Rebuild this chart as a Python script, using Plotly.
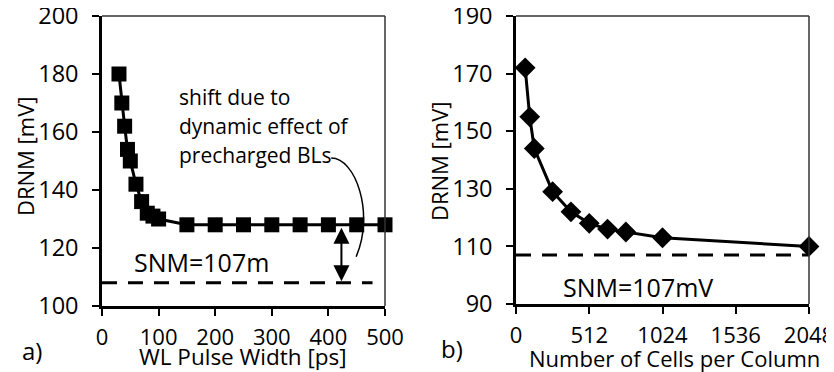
import plotly.graph_objects as go

# Panel a) data
pulse_width_ps = [30, 35, 40, 45, 50, 60, 70, 80, 90, 100, 150, 200, 250, 300, 350, 400, 450, 500]
drnm_a_mV = [180, 170, 162, 154, 150, 142, 136, 132, 131, 130, 128, 128, 128, 128, 128, 128, 128, 128]
snm_a_x = [0, 478]
snm_a_y = [108, 108]

# Panel b) data
cells_per_column = [64, 96, 128, 256, 384, 512, 640, 768, 1024, 2048]
drnm_b_mV = [172, 155, 144, 129, 122, 118, 116, 115, 113, 110]
snm_b_x = [0, 2048]
snm_b_y = [107, 107]

x_ticks_a = [0, 100, 200, 300, 400, 500]
y_ticks_a = [100, 120, 140, 160, 180, 200]
x_ticks_b = [0, 512, 1024, 1536, 2048]
y_ticks_b = [90, 110, 130, 150, 170, 190]

FONT = "Open Sans"
OFF = 8  # page body margin offset
W, H = 834 - OFF, 372 - OFF


def px(x):
    return (x - OFF) / W


def py(y):
    return 1 - (y - OFF) / H


fig = go.Figure()
fig.add_trace(go.Scatter(x=pulse_width_ps, y=drnm_a_mV, mode="lines+markers",
                         line=dict(color="black", width=3),
                         marker=dict(symbol="square", size=15, color="black"),
                         xaxis="x", yaxis="y", showlegend=False, cliponaxis=False))
fig.add_trace(go.Scatter(x=snm_a_x, y=snm_a_y, mode="lines",
                         line=dict(color="black", width=3, dash="15px,11px"),
                         xaxis="x", yaxis="y", showlegend=False))
fig.add_trace(go.Scatter(x=cells_per_column, y=drnm_b_mV, mode="lines+markers",
                         line=dict(color="black", width=3),
                         marker=dict(symbol="diamond", size=16, color="black"),
                         xaxis="x2", yaxis="y2", showlegend=False, cliponaxis=False))
fig.add_trace(go.Scatter(x=snm_b_x, y=snm_b_y, mode="lines",
                         line=dict(color="black", width=3, dash="15px,11px"),
                         xaxis="x2", yaxis="y2", showlegend=False))

common_x = dict(showgrid=False, zeroline=False, showline=True, linecolor="black", linewidth=2.5,
                ticks="outside", ticklen=7, tickwidth=2, tickcolor="black",
                tickfont=dict(family=FONT, size=22, color="black"),
                ticklabelstandoff=3, automargin=False, ticklabeloverflow="allow")
common_y = dict(showgrid=False, zeroline=False, showline=True, linecolor="black", linewidth=2.5,
                ticks="outside", ticklen=7, tickwidth=2, tickcolor="black",
                tickfont=dict(family=FONT, size=23.5, color="black"),
                ticklabelstandoff=9, automargin=False, ticklabeloverflow="allow")

fig.update_layout(
    width=W, height=H, margin=dict(l=0, r=0, t=0, b=0, autoexpand=False),
    paper_bgcolor="white", plot_bgcolor="white",
    font=dict(family=FONT, color="black"),
    xaxis=dict(domain=[px(102), px(385)], range=[0, 500], tickvals=x_ticks_a, anchor="y", **common_x),
    yaxis=dict(domain=[py(306), py(16)], range=[100, 200], tickvals=y_ticks_a, anchor="x", **common_y),
    xaxis2=dict(domain=[px(516), px(809)], range=[0, 2048], tickvals=x_ticks_b, anchor="y2", **common_x),
    yaxis2=dict(domain=[py(304), py(16)], range=[90, 190], tickvals=y_ticks_b, anchor="x2", **common_y),
)

# thin top/right frame lines
for xr, yr in (("x", "y"), ("x2", "y2")):
    fig.add_shape(type="line", xref=f"{xr} domain", yref=f"{yr} domain", x0=0, x1=1, y0=1, y1=1,
                  line=dict(color="#333", width=1.5))
    fig.add_shape(type="line", xref=f"{xr} domain", yref=f"{yr} domain", x0=1, x1=1, y0=0, y1=1,
                  line=dict(color="#333", width=1.5))

# curved pointer line
fig.add_shape(type="path", xref="x", yref="y",
              path="M 405,151 C 448,151 482,132 449,117",
              line=dict(color="black", width=1.5))

annots = []
# double arrow
annots.append(dict(x=423, y=108.5, ax=423, ay=127.5, xref="x", yref="y", axref="x", ayref="y",
                   showarrow=True, arrowhead=2, startarrowhead=2, arrowside="end+start",
                   arrowsize=1.6, startarrowsize=1.6, arrowwidth=2, arrowcolor="black", text=""))
txt = dict(family=FONT, size=21, color="black")
for line, yy in (("shift due to", 97), ("dynamic effect of", 126), ("precharged BLs", 155)):
    annots.append(dict(x=px(177), y=py(yy), xref="paper", yref="paper", text=line,
                       showarrow=False, xanchor="left", yanchor="middle", font=txt))
snm = dict(family=FONT, size=25, color="black")
annots.append(dict(x=px(132), y=py(262), xref="paper", yref="paper", text="SNM=107m",
                   showarrow=False, xanchor="left", yanchor="middle", font=snm))
annots.append(dict(x=px(638), y=py(287), xref="paper", yref="paper", text="SNM=107mV",
                   showarrow=False, xanchor="center", yanchor="middle", font=snm))
# axis titles
ttl = dict(family=FONT, size=22.5, color="black")
annots.append(dict(x=px(243), y=py(356), xref="paper", yref="paper", text="WL Pulse Width [ps]",
                   showarrow=False, xanchor="center", yanchor="middle", font=ttl))
annots.append(dict(x=px(674), y=py(358), xref="paper", yref="paper", text="Number of Cells per Column",
                   showarrow=False, xanchor="center", yanchor="middle",
                   font=dict(family=FONT, size=22, color="black")))
ytl = dict(family=FONT, size=22, color="black")
annots.append(dict(x=px(25), y=py(156), xref="paper", yref="paper", text="DRNM [mV]", textangle=-90,
                   showarrow=False, xanchor="center", yanchor="middle", font=ytl))
annots.append(dict(x=px(439), y=py(161), xref="paper", yref="paper", text="DRNM [mV]", textangle=-90,
                   showarrow=False, xanchor="center", yanchor="middle", font=ytl))
# panel labels
lab = dict(family=FONT, size=24, color="black")
annots.append(dict(x=px(32), y=py(350), xref="paper", yref="paper", text="a)",
                   showarrow=False, xanchor="center", yanchor="middle", font=lab))
annots.append(dict(x=px(452), y=py(348), xref="paper", yref="paper", text="b)",
                   showarrow=False, xanchor="center", yanchor="middle", font=lab))
fig.update_layout(annotations=annots)

fig.write_html("out.html")
